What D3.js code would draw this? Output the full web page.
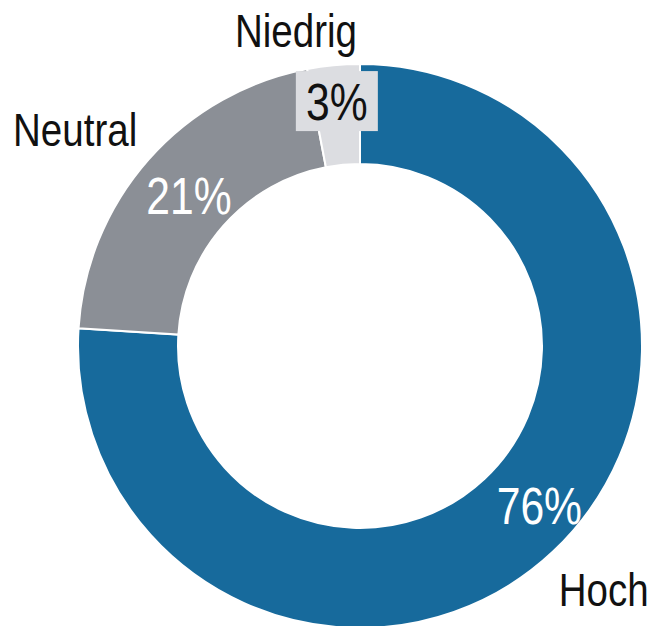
<!DOCTYPE html>
<html>
<head>
<meta charset="utf-8">
<script src="https://cdn.jsdelivr.net/npm/d3@7"></script>
<style>
  body { margin: 0; background: #fff; }
  svg { display: block; }
  text { font-family: "Liberation Sans Narrow", "Liberation Sans", Arial, sans-serif; }
</style>
</head>
<body>
<div id="chart"></div>
<script>
// data
var categories = ["Hoch", "Neutral", "Niedrig"];
var shares = [76, 21, 3];
var valueLabels = ["76%", "21%", "3%"];

var width = 655,
    height = 626,
    cx = 360,
    cy = 346,
    outerR = 282,
    innerR = 182,
    narrow = 0.82; // squeeze to mimic a condensed face

var color = d3.scaleOrdinal()
    .domain(categories)
    .range(["#176a9c", "#8b8f96", "#dcdde1"]);

var pie = d3.pie()
    .sort(null)
    .value(function(d) { return d.value; });

var arc = d3.arc()
    .outerRadius(outerR)
    .innerRadius(innerR);

var rows = categories.map(function(c, i) {
    return { name: c, value: shares[i], label: valueLabels[i] };
});
var arcs = pie(rows);

var svg = d3.select("#chart").append("svg")
    .attr("width", width)
    .attr("height", height);

var g = svg.append("g")
    .attr("transform", "translate(" + cx + "," + cy + ")");

g.selectAll("path.slice")
    .data(arcs)
    .enter().append("path")
    .attr("class", "slice")
    .attr("d", arc)
    .attr("fill", function(d) { return color(d.data.name); })
    .attr("stroke", "#fff")
    .attr("stroke-width", 2);

// polar helper, angle measured clockwise from 12 o'clock
function polar(r, a) {
    return [r * Math.sin(a), -r * Math.cos(a)];
}
function mid(d) { return (d.startAngle + d.endAngle) / 2; }

function label(p, txt, size, fill) {
    g.append("text")
        .attr("transform", "translate(" + p[0] + "," + p[1] + ") scale(" + narrow + ",1)")
        .attr("dy", "0.36em")
        .attr("text-anchor", "middle")
        .attr("font-size", size)
        .attr("fill", fill)
        .text(txt);
}

// value labels: radius and angle nudges per slice
var valueR = [240, 228, 246];
var valueTurn = [-0.09, 0, 0];

arcs.forEach(function(d, i) {
    var p = polar(valueR[i], mid(d) + valueTurn[i]);
    if (d.data.name == "Niedrig") {
        g.append("rect")
            .attr("x", p[0] - 41)
            .attr("y", p[1] - 30)
            .attr("width", 82)
            .attr("height", 60)
            .attr("fill", color(d.data.name));
    }
    label(p, d.data.label, 52, d.data.name == "Niedrig" ? "#111" : "#fff");
});

// category labels outside the ring
var nameR = [344, 358, 322];
var nameTurn = [-0.033, -0.072, -0.106];

arcs.forEach(function(d, i) {
    label(polar(nameR[i], mid(d) + nameTurn[i]), d.data.name, 47, "#111");
});
</script>
</body>
</html>
